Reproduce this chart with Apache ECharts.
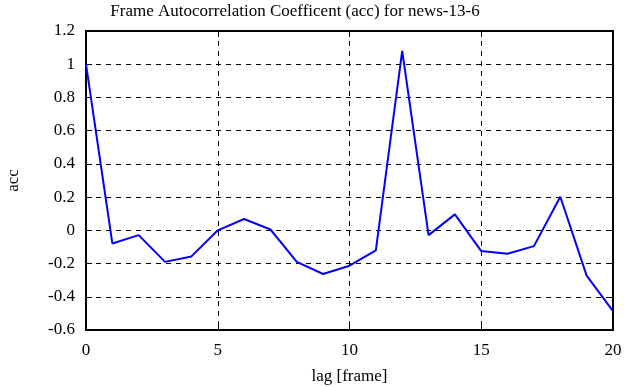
<!DOCTYPE html>
<html><head><meta charset="utf-8">
<script src="https://cdn.jsdelivr.net/npm/echarts@6/dist/echarts.min.js"></script>
<style>html,body{margin:0;padding:0;background:#fff}#c{width:624px;height:387px}</style>
</head><body><div id="c"></div>
<script>
var lags = [0,1,2,3,4,5,6,7,8,9,10,11,12,13,14,15,16,17,18,19,20];
var acc = [1.0,-0.079,-0.029,-0.19,-0.157,0.0,0.068,0.005,-0.19,-0.263,-0.213,-0.121,1.08,-0.029,0.096,-0.125,-0.141,-0.095,0.202,-0.273,-0.486];
var titleText = 'Frame Autocorrelation Coefficent (acc) for news-13-6';
var xName = 'lag [frame]';
var yName = 'acc';
var font = 'Liberation Serif';
var chart = echarts.init(document.getElementById('c'), null, {renderer:'canvas'});
var lineStyleAxis = {color:'#000', width:2};
chart.setOption({
  animation:false,
  backgroundColor:'#fff',
  title:{text:titleText, left:290, top:-2, textAlign:'center',
    textStyle:{fontFamily:font, fontWeight:'normal', fontSize:17, color:'#000'}},
  grid:{left:86, right:11, top:31, bottom:57, containLabel:false, outerBoundsMode:'none'},
  xAxis:[{type:'value', min:0, max:20, interval:5, name:xName, nameLocation:'middle', nameGap:38,
    nameTextStyle:{fontFamily:font, fontSize:17, color:'#000'},
    axisLine:{show:true, onZero:false, lineStyle:lineStyleAxis}, axisTick:{show:true, inside:true, length:6, lineStyle:{color:'#000'}},
    axisLabel:{fontFamily:font, fontSize:17, color:'#000', margin:12},
    splitLine:{show:true, lineStyle:{color:'#000', type:[5,5], width:1}}},
   {type:'value', position:'top', min:0, max:20, interval:5,
    axisLine:{show:true, onZero:false, lineStyle:lineStyleAxis}, axisTick:{show:true, inside:true, length:6, lineStyle:{color:'#000'}},
    axisLabel:{show:false}, splitLine:{show:false}}],
  yAxis:[{type:'value', min:-0.6, max:1.2, interval:0.2, name:yName, nameLocation:'middle', nameGap:64, nameRotate:90,
    nameTextStyle:{fontFamily:font, fontSize:17, color:'#000'},
    axisLine:{show:true, onZero:false, lineStyle:lineStyleAxis}, axisTick:{show:true, inside:true, length:6, lineStyle:{color:'#000'}},
    axisLabel:{fontFamily:font, fontSize:17, color:'#000', margin:11,
      formatter:function(v){return String(Math.round(v*10)/10);}},
    splitLine:{show:true, lineStyle:{color:'#000', type:[5,5], width:1}}},
   {type:'value', position:'right', min:-0.6, max:1.2, interval:0.2,
    axisLine:{show:true, onZero:false, lineStyle:lineStyleAxis}, axisTick:{show:true, inside:true, length:6, lineStyle:{color:'#000'}},
    axisLabel:{show:false}, splitLine:{show:false}}],
  series:[{type:'line', data:lags.map(function(l,i){return [l, acc[i]];}), symbol:'none',
    lineStyle:{color:'#0000ff', width:2}, z:5}]
});
</script></body></html>
